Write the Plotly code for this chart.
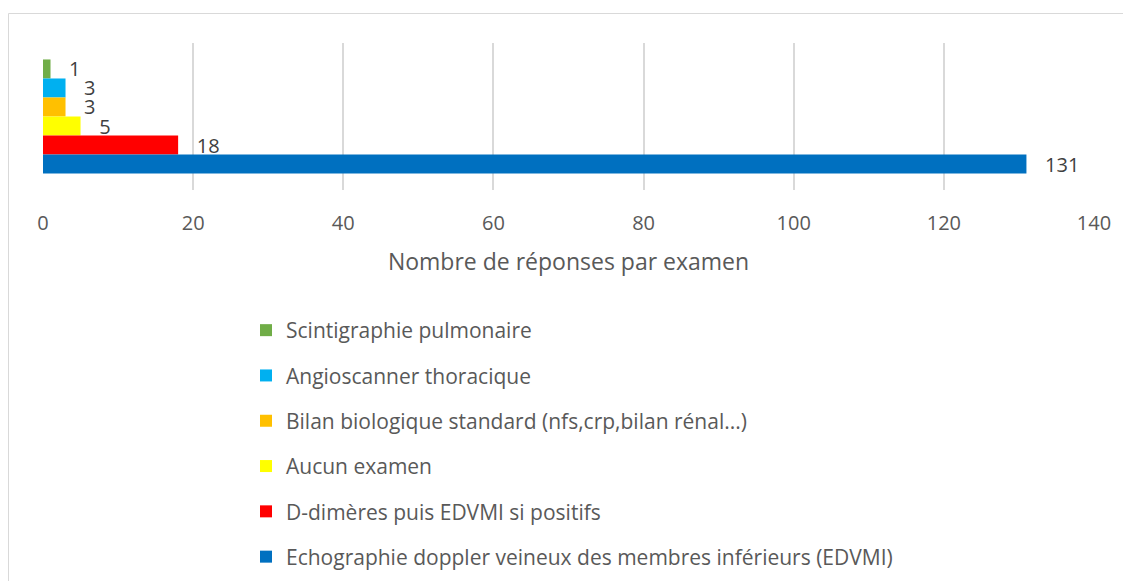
import plotly.graph_objects as go

# Data (top to bottom in the chart)
categories = ["Nombre de réponses par examen"]
series_names = [
    "Scintigraphie pulmonaire",
    "Angioscanner thoracique",
    "Bilan biologique standard (nfs,crp,bilan rénal...)",
    "Aucun examen",
    "D-dimères puis EDVMI si positifs",
    "Echographie doppler veineux des membres inférieurs (EDVMI)",
]
series_values = [1, 3, 3, 5, 18, 131]
series_colors = ["#70AD47", "#00B0F0", "#FFC000", "#FFFF00", "#FF0000", "#0070C0"]
x_ticks = [0, 20, 40, 60, 80, 100, 120, 140]

FONT = "Open Sans"
OFF = 8  # page body margin
W, H = 1131, 581
L = 43 - OFF
T = 43 - OFF
R = W - (1094 - OFF)
B = H - (190 - OFF)

fig = go.Figure()
for i, (name, val, col) in enumerate(zip(series_names, series_values, series_colors)):
    fig.add_trace(go.Bar(
        y=categories, x=[val], name=name, orientation="h",
        marker=dict(color=col, line=dict(width=0)),
        text=[val], texttemplate="\u00a0\u00a0\u00a0%{x}", textposition="outside",
        textfont=dict(family=FONT, size=20, color="#404040"),
        constraintext="none", cliponaxis=False, legendgroup=str(i),
    ))

pw = W - L - R
ph = H - T - B


def px_to_paper_x(px):
    return (px - OFF - L) / pw


def px_to_paper_y(py):
    return (T + ph - (py - OFF)) / ph


fig.update_layout(
    width=W, height=H,
    margin=dict(l=L, r=R, t=T, b=B, autoexpand=False),
    paper_bgcolor="white", plot_bgcolor="white",
    barmode="group", bargap=0.224, bargroupgap=0,
    font=dict(family=FONT, color="#595959"),
    xaxis=dict(
        range=[0, 140], tickvals=x_ticks, showgrid=True, gridcolor="#D9D9D9", gridwidth=1.5,
        zeroline=False, showline=False, ticks="", ticklabelstandoff=19,
        tickfont=dict(family=FONT, size=20, color="#595959"),
        title=dict(text="Nombre de réponses par examen", standoff=18,
                   font=dict(family=FONT, size=23, color="#595959")),
    ),
    yaxis=dict(showticklabels=False, showgrid=False, zeroline=False, showline=False,
               ticks="", autorange="reversed"),
    legend=dict(
        xref="paper", yref="paper", x=px_to_paper_x(246), y=px_to_paper_y(310),
        xanchor="left", yanchor="top", traceorder="grouped", tracegroupgap=15,
        font=dict(family=FONT, size=21, color="#595959"), bgcolor="rgba(0,0,0,0)",
    ),
    showlegend=True,
    shapes=[dict(
        type="rect", xref="paper", yref="paper",
        x0=px_to_paper_x(8.5), x1=px_to_paper_x(1150),
        y0=px_to_paper_y(620), y1=px_to_paper_y(13.5),
        line=dict(color="#D9D9D9", width=1), fillcolor="rgba(0,0,0,0)", layer="below",
    )],
)

fig.write_html("out.html")
